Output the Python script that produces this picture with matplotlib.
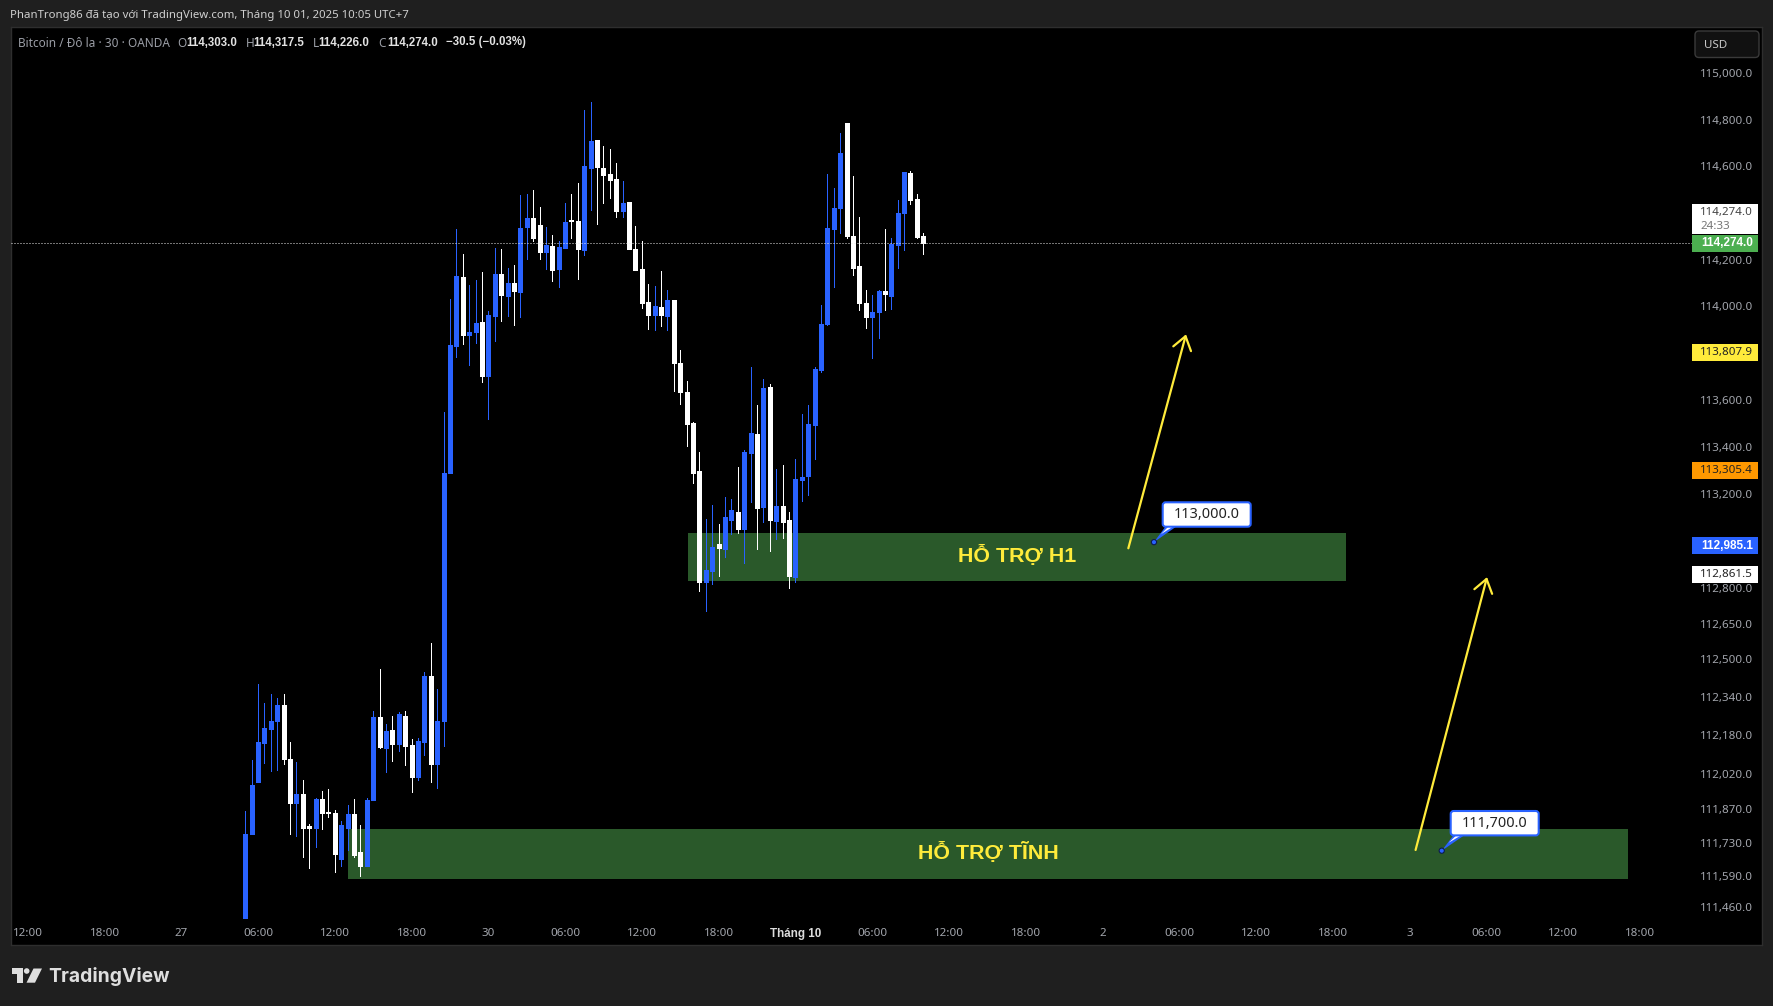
import matplotlib
matplotlib.use("Agg")
import matplotlib.pyplot as plt
from matplotlib.collections import LineCollection
from matplotlib.patches import Rectangle, FancyBboxPatch, Polygon, Circle
from matplotlib.ticker import NullLocator
from matplotlib.transforms import Affine2D, ScaledTranslation, blended_transform_factory

plt.rcParams['font.family'] = ['Noto Sans', 'DejaVu Sans']

# ---------- data: 30-minute candles ----------
opens = [111417,111768,111989,112152,112210,112244,112312,112085,111900,111938,
         111803,111797,111917,111863,111859,111665,111797,111855,111695,111638,
         111912,112261,112131,112206,112148,112265,112144,112008,112155,112435,
         112063,112244,113295,113834,114129,113880,113895,113938,113706,113963,
         114142,114048,114103,114065,114343,114381,114351,114236,114262,114163,
         114253,114372,114368,114245,114597,114716,114597,114570,114549,114413,
         114451,114249,114163,114023,113967,114001,113963,114031,113761,113638,
         113506,113302,112832,112879,112993,112972,113095,113128,113057,113379,
         113459,113149,113659,113091,113153,113095,112853,113264,113281,113498,
         113732,113927,114334,114425,114789,114304,114176,114018,113959,113980,
         114069,114048,114266,114402,114574,114464,114303]
highs = [111868,112080,112400,112321,112358,112342,112358,112155,112072,111997,
         111812,111921,111951,111959,111872,111825,111893,111917,111808,111921,
         112287,112464,112231,112265,112282,112287,112168,112172,112452,112575,
         112379,113553,114035,114334,114228,114095,114116,114150,113984,114253,
         114249,114167,114180,114481,114485,114502,114430,114343,114309,114283,
         114447,114485,114532,114846,114880,114716,114691,114678,114619,114540,
         114451,114347,114283,114099,114091,114155,114074,114031,113817,113685,
         113510,113383,113099,113159,113078,113192,113183,113319,113391,113744,
         113583,113693,113672,113311,113328,113128,113353,113544,113583,113744,
         114010,114570,114510,114746,114789,114561,114385,114074,114052,114074,
         114334,114296,114459,114578,114583,114485,114317.5]
lows = [111417,111768,111989,112068,112034,112038,112063,111772,111763,111674,
        111629,111716,111789,111842,111612,111638,111704,111674,111595,111638,
        111912,112131,112029,112076,112119,112059,111946,111997,112102,111989,
        111963,112140,113295,113787,113842,113753,113846,113681,113523,113855,
        113942,113963,113925,113959,114206,114283,114206,114163,114112,114086,
        114253,114296,114120,114224,114417,114355,114447,114468,114385,114385,
        114249,114159,113997,113906,113904,113921,113904,113642,113587,113408,
        113251,112794,112709,112824,112858,112937,113035,113040,112912,113170,
        112972,113086,112963,113014,113018,112807,112832,113175,113200,113353,
        113723,113923,114086,114317,114296,114137,113989,113912,113783,113870,
        113989,113993,114167,114245,114442,114296,114226]
closes = [111768,111976,112155,112214,112244,112312,112085,111900,111938,111797,
          111797,111917,111859,111859,111687,111808,111855,111682,111638,111912,
          112261,112136,112202,112148,112274,112140,112008,112159,112435,112063,
          112244,113295,113838,114133,113880,113895,113933,113706,113967,114142,
          114052,114103,114069,114338,114381,114296,114236,114266,114159,114258,
          114364,114368,114249,114606,114712,114602,114566,114544,114413,114447,
          114249,114159,114018,113967,114006,113967,114031,113761,113638,113502,
          113294,112832,112883,112980,112976,113107,113136,113057,113383,113464,
          113145,113655,113095,113153,113086,112858,113268,113277,113502,113736,
          113927,114338,114425,114661,114304,114167,114018,113959,113980,114069,
          114057,114270,114402,114578,114459,114300,114274]

price_ticks = [115000,114800,114600,114200,114000,113600,113400,113200,
               113000,112800,112650,112500,112340,112180,112020,111870,111730,111590,111460]
price_labels = [f"{p:,.1f}" for p in price_ticks]

time_ticks = [-34,-22,-10,2,14,26,38,50,62,74,86,98,110,122,134,146,158,170,182,194,206,218]
time_labels = ["12:00","18:00","27","06:00","12:00","18:00","30","06:00","12:00","18:00",
               "Tháng 10","06:00","12:00","18:00","2","06:00","12:00","18:00","3","06:00","12:00","18:00"]

zones = [("HỖ TRỢ H1", 69.2, 172.1, 112835, 113038),
         ("HỖ TRỢ TĨNH", 16.05, 216.2, 111582, 111791)]
arrows = [((138.06, 112974), (147.08, 113884)),
          ((182.97, 111703), (194.14, 112852))]
markers = [("113,000.0", 142.07, 113000), ("111,700.0", 187.06, 111700)]
last_price = 114274.0
side_labels = [("113,807.9", 113807.9, "#ffeb3b", "#222222"),
               ("113,305.4", 113305.4, "#ff9800", "#222222"),
               ("112,985.1", 112985.1, "#2962ff", "#ffffff"),
               ("112,861.5", 112861.5, "#ffffff", "#222222")]

# ---------- layout ----------
W, H = 1773, 1006
BG = "#1f1f1f"
BLUE = "#2962ff"
YEL = "#ffeb3b"
GREEN = "#2a592a"
BOLD = "Liberation Sans"
TICK = 8.35
fig = plt.figure(figsize=(W/100, H/100), dpi=100, facecolor=BG)
px = Affine2D().scale(1/W, -1/H).translate(0, 1) + fig.transFigure
ax = fig.add_axes([11/W, 1-945/H, 1751/W, 918/H], facecolor="black")
ax.set_yscale("log")
ax.set_xlim(-36.63, 237.13)
ax.set_ylim(111305.7, 115204.1)
for s in ax.spines.values():
    s.set_color("#2e2e2e")
    s.set_linewidth(1)

ax.yaxis.tick_right()
ax.set_yticks(price_ticks, price_labels)
ax.yaxis.set_minor_locator(NullLocator())
ax.tick_params(axis="y", which="both", length=0, pad=-6.5, labelsize=TICK, labelcolor="#a3a6ad")
lift = ScaledTranslation(0, 0.9/100, fig.dpi_scale_trans)
for t in ax.get_yticklabels():
    t.set_ha("right")
    t.set_transform(t.get_transform() + lift)
ax.set_xticks(time_ticks, time_labels)
ax.tick_params(axis="x", length=0, pad=-12.4, labelsize=TICK, labelcolor="#a3a6ad")
for t in ax.get_xticklabels():
    if t.get_text().startswith("Tháng"):
        t.set_color("#dcdcdc")
        t.set_fontfamily(BOLD)
        t.set_fontweight("bold")

# ---------- zones, candles ----------
for name, x0, x1, y0, y1 in zones:
    ax.add_patch(Rectangle((x0, y0), x1-x0, y1-y0, fc=GREEN, ec="none", zorder=1))
    ax.text((x0+x1)/2, (y0*y1)**0.5 + 8, name, color=YEL, fontsize=15.4, family=BOLD,
            fontweight="bold", ha="center", va="center", zorder=2)

idx = list(range(len(opens)))
colors = [BLUE if c >= o else "#ffffff" for o, c in zip(opens, closes)]
wicks = LineCollection([[(i, l), (i, h)] for i, l, h in zip(idx, lows, highs)], colors=colors,
                       linewidths=0.72, capstyle="butt", zorder=3, antialiaseds=False)
wicks.set_snap(True)
ax.add_collection(wicks)
bodies = LineCollection([[(i, o), (i, c)] for i, o, c in zip(idx, opens, closes)], colors=colors,
                        linewidths=3.6, capstyle="butt", zorder=3.1, antialiaseds=False)
bodies.set_snap(True)
ax.add_collection(bodies)

x_edge = (1692-245.3)/6.396
ax.plot([-36.63, x_edge], [last_price, last_price], color="#e8e8e8", lw=0.72,
        ls=(0, (1, 2)), zorder=4)

# ---------- arrows ----------
for start, tip in arrows:
    ax.annotate("", xy=tip, xytext=start, zorder=4,
                arrowprops=dict(arrowstyle="->,head_length=0.85,head_width=0.6", color=YEL, lw=1.6,
                                shrinkA=0, shrinkB=0, mutation_scale=11))

# ---------- callouts ----------
boxes = [(1162.7, 502.3), (1450.7, 811.0)]
for (label, xm, ym), (bx, by) in zip(markers, boxes):
    dot = ax.transData.transform((xm, ym))
    dx, dy = dot[0], H - dot[1]
    fig.add_artist(Polygon([(dx, dy), (bx+3, by+24), (bx+14, by+24)], closed=True, fc=BLUE, ec="none",
                           transform=px, zorder=1))
    fig.add_artist(Polygon([(dx+7, dy-8), (bx+6, by+24), (bx+11, by+24)], closed=True, fc="white", ec="none",
                           transform=px, zorder=1.1))
    fig.add_artist(FancyBboxPatch((bx, by), 88, 24.4, boxstyle="round,pad=0,rounding_size=3", fc="white",
                                  ec=BLUE, lw=1.5, transform=px, zorder=1.2))
    fig.add_artist(Circle((dx, dy), 2.6, fc=BLUE, ec="#0d1b4c", lw=0.8, transform=px, zorder=1.3))
    fig.text(bx+44, by+12.2, label, color="#222222", fontsize=10.4, ha="center", va="center",
             transform=px, zorder=3)

# ---------- right scale labels ----------
tr = blended_transform_factory(ax.transAxes, ax.transData)
xa, xb, xt = (1692-11)/1751, (1758-11)/1751, (1753-11)/1751
ax.add_patch(Rectangle((xa, 114313), xb-xa, 114441-114313, fc="white", ec="none", transform=tr, zorder=5, clip_on=False))
ax.add_patch(Rectangle((xa, last_price-36), xb-xa, 72, fc="#4caf50", ec="none", transform=tr, zorder=5))
ax.text(xt, last_price, f"{last_price:,.1f}", color="white", fontsize=8.5, family=BOLD, fontweight="bold",
        ha="right", va="center", transform=tr, zorder=6)
fig.text(1753/W, 1-212/H, f"{last_price:,.1f}", color="#444444", fontsize=TICK, ha="right", va="center", zorder=3)
fig.text(1700/W, 1-226.5/H, "24:33", color="#777777", fontsize=TICK, ha="left", va="center", zorder=3)
for label, p, fc, tc in side_labels:
    ax.add_patch(Rectangle((xa, p-36), xb-xa, 72, fc=fc, ec="none", transform=tr, zorder=5))
    if tc == "#ffffff":
        ax.text(xt, p, label, color=tc, fontsize=8.5, family=BOLD, fontweight="bold", ha="right", va="center",
                transform=tr, zorder=6)
    else:
        ax.text(xt, p, label, color=tc, fontsize=TICK, ha="right", va="center", transform=tr, zorder=6)

fig.add_artist(FancyBboxPatch((1695, 31), 64, 26.5, boxstyle="round,pad=0,rounding_size=4", fc="#111111",
                              ec="#3a3a3a", lw=1, transform=px, zorder=1))
fig.text(1704/W, 1-45/H, "USD", color="#c8c8c8", fontsize=TICK, ha="left", va="center", zorder=3)

# ---------- header texts ----------
fig.text(10/W, 1-15.8/H, "PhanTrong86 đã tạo với TradingView.com, Tháng 10 01, 2025 10:05 UTC+7",
         color="#d0d0d0", fontsize=8.2, ha="left", va="center")
GREY, VAL = "#9b9ea6", "#e2e2e2"
legend = [(18, "Bitcoin / Đô la · 30 · OANDA", GREY, "normal"),
          (176.8, "O", GREY, "normal"), (186.4, "114,303.0", VAL, "bold"),
          (245.4, "H", GREY, "normal"), (253.6, "114,317.5", VAL, "bold"),
          (312.5, "L", GREY, "normal"), (318.5, "114,226.0", VAL, "bold"),
          (378.6, "C", GREY, "normal"), (386.8, "114,274.0", VAL, "bold"),
          (446.4, "−30.5 (−0.03%)", VAL, "bold")]
for x, s, c, w in legend:
    if w == "bold":
        fig.text(x/W, 1-42.5/H, s, color=c, fontsize=8.3, family=BOLD, fontweight=w, ha="left", va="center")
    else:
        fig.text(x/W, 1-43.3/H, s, color=c, fontsize=8.5, ha="left", va="center")

# ---------- logo ----------
LOGO = "#dedede"
fig.add_artist(Polygon([(12, 968.5), (22.8, 968.5), (22.8, 982.7), (16.8, 982.7), (16.8, 974), (12, 974)],
                       closed=True, fc=LOGO, ec="none", transform=px))
fig.add_artist(Circle((26.7, 971), 2.8, fc=LOGO, ec="none", transform=px))
fig.add_artist(Polygon([(33.5, 968.5), (42, 968.5), (35, 982.7), (26.5, 982.7)],
                       closed=True, fc=LOGO, ec="none", transform=px))
fig.text(48.5/W, 1-976.5/H, "TradingView", color=LOGO, fontsize=13.9, fontweight="bold",
         family="Inter", ha="left", va="center")

fig.savefig("out.png", dpi=100, facecolor=BG)
